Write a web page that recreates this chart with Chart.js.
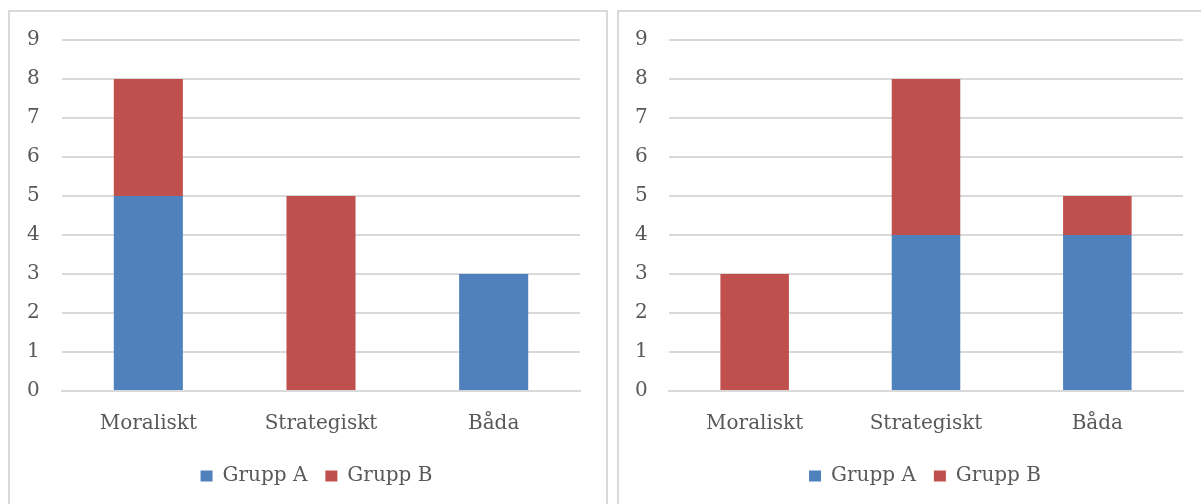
<!DOCTYPE html>
<html>
<head>
<meta charset="utf-8">
<script src="https://cdn.jsdelivr.net/npm/chart.js@4/dist/chart.umd.min.js"></script>
<style>
  body { margin: 0; background: #fff; width: 1201px; height: 504px; overflow: hidden; position: relative; }
  .box { position: absolute; top: 10px; border: 2px solid #d9d9d9; width: 596px; height: 500px; }
  #boxL { left: 8px; }
  #boxR { left: 617px; border-right: none; }
  .box canvas { display: block; }
</style>
</head>
<body>
<div class="box" id="boxL"><canvas id="chartL" width="596" height="492"></canvas></div>
<div class="box" id="boxR"><canvas id="chartR" width="596" height="492"></canvas></div>
<script>
const categories = ['Moraliskt', 'Strategiskt', 'Båda'];
const seriesNames = ['Grupp A', 'Grupp B'];
const leftGruppA = [5, 0, 3];
const leftGruppB = [3, 5, 0];
const rightGruppA = [0, 4, 4];
const rightGruppB = [3, 4, 1];
const yMax = 9;

const colA = '#4f81bd';
const colB = '#c0504d';
const txt = '#595959';
const grid = '#d9d9d9';
Chart.defaults.font.family = '"DejaVu Serif", serif';
Chart.defaults.font.size = 20;
Chart.defaults.color = txt;

// padL = where the y labels start, padL + yWidth = left edge of plot,
// spacer = empty axis right of the plot
function makeChart(id, a, b, padL, yWidth, spacer) {
  const ctx = document.getElementById(id).getContext('2d');
  return new Chart(ctx, {
    type: 'bar',
    data: {
      labels: categories,
      datasets: [
        { label: seriesNames[0], data: a, backgroundColor: colA, categoryPercentage: 1, barPercentage: 0.4 },
        { label: seriesNames[1], data: b, backgroundColor: colB, categoryPercentage: 1, barPercentage: 0.4 }
      ]
    },
    options: {
      responsive: false,
      animation: false,
      layout: { padding: { top: 28, right: 0, left: padL, bottom: 8 } },
      plugins: {
        legend: {
          position: 'bottom',
          labels: { boxWidth: 12, boxHeight: 11, padding: 18, color: txt, font: { size: 20 } }
        },
        tooltip: { enabled: false }
      },
      scales: {
        x: {
          stacked: true,
          grid: { display: false },
          border: { color: grid, width: 2 },
          ticks: { padding: 13, color: txt },
          afterFit: s => { s.height = 57; }
        },
        y: {
          stacked: true,
          min: 0, max: yMax,
          ticks: { stepSize: 1, padding: 0, crossAlign: 'far', color: txt },
          grid: { color: grid, lineWidth: 2, drawTicks: false },
          border: { display: false },
          afterFit: s => { s.width = yWidth; }
        },
        // empty axis, only keeps space right of the plot
        spacer: {
          type: 'linear',
          position: 'right',
          grid: { display: false },
          border: { display: false },
          ticks: { display: false },
          afterFit: s => { s.width = spacer; }
        }
      }
    }
  });
}

makeChart('chartL', leftGruppA, leftGruppB, 17, 35, 26);
makeChart('chartR', rightGruppA, rightGruppB, 16, 34, 32);
</script>
</body>
</html>
